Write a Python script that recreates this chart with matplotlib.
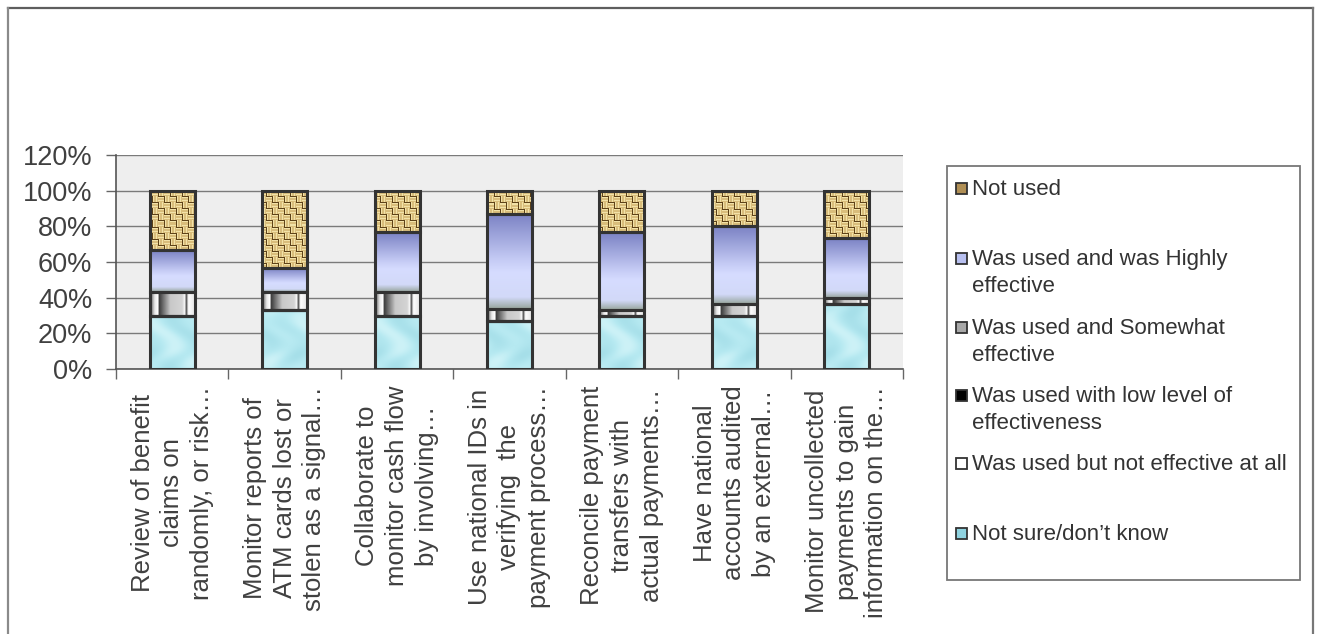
import numpy as np
import matplotlib
matplotlib.use("Agg")
import matplotlib.pyplot as plt
from matplotlib.patches import Rectangle
from matplotlib.lines import Line2D
from matplotlib.colors import to_rgb

# ---------------- data ----------------
categories = [
    "Review of benefit\nclaims on\nrandomly, or risk…",
    "Monitor reports of\nATM cards lost or\nstolen as a signal…",
    "Collaborate to\nmonitor cash flow\nby involving…",
    "Use national IDs in\nverifying  the\npayment process…",
    "Reconcile payment\ntransfers with\nactual payments…",
    "Have national\naccounts audited\nby an external…",
    "Monitor uncollected\npayments to gain\ninformation on the…",
]
not_sure = [30.0, 33.3, 30.0, 26.7, 30.0, 30.0, 36.7]
not_effective = [0, 0, 0, 0, 0, 0, 0]
low_level = [0, 0, 0, 0, 0, 0, 0]
somewhat = [13.3, 10.0, 13.3, 6.7, 3.3, 6.7, 3.3]
highly = [23.3, 13.3, 33.3, 53.3, 43.3, 43.3, 33.3]
not_used = [33.3, 43.3, 23.3, 13.3, 23.3, 20.0, 26.7]

legend_labels = [
    "Not used",
    "Was used and was Highly\neffective",
    "Was used and Somewhat\neffective",
    "Was used with low level of\neffectiveness",
    "Was used but not effective at all",
    "Not sure/don’t know",
]
y_ticks = [0, 20, 40, 60, 80, 100, 120]

plt.rcParams['font.family'] = ['Liberation Sans', 'DejaVu Sans']

W, H = 1318, 634
fig = plt.figure(figsize=(W / 100, H / 100), dpi=100)
fig.patch.set_facecolor('white')


def fx(px):
    return px / W


def fy(py):
    return 1 - py / H


ax_l, ax_r, ax_t, ax_b = 116, 903, 155, 369
ax = fig.add_axes([fx(ax_l), fy(ax_b), fx(ax_r - ax_l), (ax_b - ax_t) / H])
ax.set_facecolor('#eeeeee')

x = np.arange(len(categories))
bw = 0.4
edge = '#333333'


# ---------------- textures (styling only) ----------------
def lerp_stops(t, stops):
    pos = [s[0] for s in stops]
    cols = np.array([to_rgb(s[1]) for s in stops])
    return np.stack([np.interp(t, pos, cols[:, k]) for k in range(3)], axis=-1)


TW, TH = ax_r - ax_l, ax_b - ax_t
yy, xx = np.mgrid[0:TH, 0:TW]

# burlap weave
cell = ((xx // 6) + (yy // 6)) % 2
base = np.array(to_rgb('#d9bd7b'))
light = np.array(to_rgb('#f2e2a8'))
dark = np.array(to_rgb('#5e4218'))
burlap = np.ones((TH, TW, 3)) * base
hstripe = (cell == 0) & (yy % 3 == 1)
vstripe = (cell == 1) & (xx % 3 == 1)
burlap[hstripe] = light
burlap[vstripe] = light
edges_w = ((xx % 6 == 0) & (cell == 1)) | ((yy % 6 == 0) & (cell == 0))
burlap[edges_w] = dark

# water texture
wv = (np.sin(xx / 6.0 + np.sin(yy / 8.0) * 2) + np.sin(yy / 10.0 - xx / 12.0)) / 4 + 0.5
water = lerp_stops(wv, [(0, '#a6dfe9'), (0.5, '#b6e9f1'), (1, '#cdf2f7')])

highly_grad = lerp_stops(np.linspace(0, 1, 100),
                         [(0, '#7b82c4'), (0.5, '#c7cdf6'), (0.62, '#d6dcff'),
                          (0.88, '#d2d9f8'), (1.0, '#98a69e')])[:, None, :]
stripe_prof = lerp_stops(np.linspace(0, 1, 60),
                         [(0, '#5a5a5a'), (0.1, '#e8e8e8'), (0.17, '#ffffff'),
                          (0.2, '#3c3c3c'), (0.45, '#c8c8c8'), (0.72, '#d4d4d4'),
                          (0.78, '#f8f8f8'), (0.81, '#444444'), (0.86, '#ffffff'),
                          (1.0, '#e6e6e6')])[None, :, :]

series = [
    (not_sure, 'water', '#a8e2ec'),
    (not_effective, 'plain', '#ffffff'),
    (low_level, 'plain', '#000000'),
    (somewhat, 'stripe', '#b0b0b0'),
    (highly, 'grad', '#b8c0f0'),
    (not_used, 'burlap', '#c8a868'),
]

bottom = np.zeros(len(categories))
for vals, kind, col in series:
    vals = np.array(vals, dtype=float)
    bars = ax.bar(x, vals, bw, bottom=bottom, facecolor='none' if kind != 'plain' else col,
                  edgecolor=edge, linewidth=2.2, zorder=3)
    for i, p in enumerate(bars.patches):
        if vals[i] <= 0 or kind == 'plain':
            continue
        x0, x1 = x[i] - bw / 2, x[i] + bw / 2
        y0, y1 = bottom[i], bottom[i] + vals[i]
        if kind == 'water':
            im = ax.imshow(water, extent=[-0.5, 6.5, 0, 120], aspect='auto', zorder=2,
                           interpolation='nearest')
        elif kind == 'burlap':
            im = ax.imshow(burlap, extent=[-0.5, 6.5, 0, 120], aspect='auto', zorder=2,
                           interpolation='nearest')
        elif kind == 'grad':
            im = ax.imshow(highly_grad, extent=[x0, x1, y0, y1], aspect='auto', zorder=2)
        else:
            im = ax.imshow(stripe_prof, extent=[x0, x1, y0, y1], aspect='auto', zorder=2)
        im.set_clip_path(p)
    bottom += vals

ax.set_xlim(-0.5, 6.5)
ax.set_ylim(0, 120)
ax.set_yticks(y_ticks)
ax.set_yticklabels([f"{v}%" for v in y_ticks])
ax.yaxis.grid(True, color='#7a7a7a', linewidth=1.0)
ax.set_axisbelow(True)
ax.set_xticks(x)
ax.set_xticklabels(categories, rotation=90, fontsize=18.5, color='#404040',
                   ha='center', va='top', multialignment='center', linespacing=1.3)
ax.set_xticks(np.arange(-0.5, 7, 1), minor=True)
ax.tick_params(axis='x', which='major', length=0, pad=12)
ax.tick_params(axis='x', which='minor', length=7, color='#666666', width=1)
ax.tick_params(axis='y', length=7, color='#666666', width=1, labelsize=19.5,
               labelcolor='#404040', pad=10)
for s in ['top', 'right']:
    ax.spines[s].set_visible(False)
for s in ['left', 'bottom']:
    ax.spines[s].set_color('#555555')
    ax.spines[s].set_linewidth(1.2)

# ---------------- legend (manual) ----------------
fig.add_artist(Rectangle((fx(947), fy(580)), fx(1300 - 947), (580 - 166) / H,
                         transform=fig.transFigure, facecolor='white',
                         edgecolor='#777777', linewidth=1.3))
leg_y = [188, 258, 327, 395, 463, 533]
leg_cols = ['#b08f55', '#b8c0f0', '#a8a8a8', '#000000', '#ffffff', '#8fd3e0']
for yc, lab, c in zip(leg_y, legend_labels, leg_cols):
    fig.add_artist(Rectangle((fx(956), fy(yc + 5.5)), fx(11), 11 / H,
                             transform=fig.transFigure, facecolor=c,
                             edgecolor='#333333', linewidth=1.3))
    fig.text(fx(972), fy(yc - 9), lab, fontsize=16, color='#333333',
             ha='left', va='top', linespacing=1.35)

# ---------------- outer border ----------------
fig.add_artist(Line2D([fx(8), fx(1313)], [fy(8), fy(8)], color='#5e5e5e', linewidth=1.6,
                      transform=fig.transFigure))
fig.add_artist(Line2D([fx(8), fx(8)], [fy(8), 0], color='#8a8a8a', linewidth=1.6,
                      transform=fig.transFigure))
fig.add_artist(Line2D([fx(1313), fx(1313)], [fy(8), 0], color='#777777', linewidth=1.6,
                      transform=fig.transFigure))

fig.savefig('out.png', dpi=100)
